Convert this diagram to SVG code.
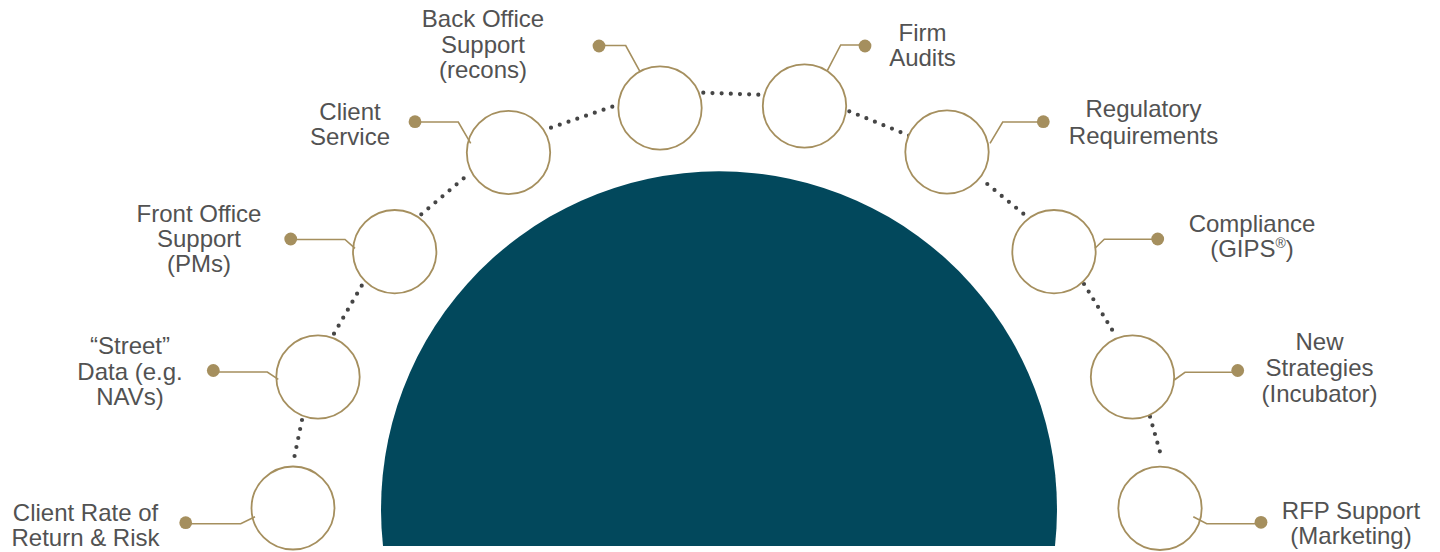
<svg xmlns="http://www.w3.org/2000/svg" width="1440" height="552" viewBox="0 0 1440 552">
  <style>
    .ring { fill: #ffffff; stroke: #A58F5E; stroke-width: 1.8; }
    .lead { fill: none; stroke: #A58F5E; stroke-width: 1.6; }
    .knob { fill: #A58F5E; }
    .dots { fill: none; stroke: #454545; stroke-width: 4.2; stroke-linecap: round; stroke-dasharray: 0 1; }
    .lbl { font-family: "Liberation Sans", Arial, sans-serif; font-size: 24px; fill: #525252; text-anchor: middle; }
  </style>

  <!-- central dome -->
  <path id="dome" d="M 383 546 A 338 338 0 1 1 1055 546 Z" fill="#02485C"/>

  <!-- dotted arc linking the rings -->
  <g id="connectors">
    <path class="dots" d="M 302 420 L 292.7 465" pathLength="5"/>
    <path class="dots" d="M 361.7 285.7 L 334 333.7" pathLength="6"/>
    <path class="dots" d="M 421.3 214.3 L 470.7 172.3" pathLength="7"/>
    <path class="dots" d="M 551 127.7 L 612.3 106.7" pathLength="7"/>
    <path class="dots" d="M 703.3 92.7 L 758.3 94.7" pathLength="6"/>
    <path class="dots" d="M 849.3 111.3 L 909 135.5" pathLength="7"/>
    <path class="dots" d="M 987.3 184 L 1023.3 213.7" pathLength="5"/>
    <path class="dots" d="M 1084 284 L 1116.7 337.3" pathLength="7"/>
    <path class="dots" d="M 1150 416.7 L 1162.3 460" pathLength="5"/>
  </g>

  <g id="n-client-rate">
    <circle class="ring" cx="293" cy="508" r="41.5"/>
    <polyline class="lead" points="185.7,523.8 240.7,523.8 255,516.7"/>
    <circle class="knob" cx="185.7" cy="522.7" r="6.4"/>
    <text class="lbl" x="85.5" y="521">Client Rate of</text>
    <text class="lbl" x="85.5" y="546">Return &amp; Risk</text>
  </g>

  <g id="n-street-data">
    <circle class="ring" cx="318" cy="377" r="41.7"/>
    <polyline class="lead" points="213.3,372 267.3,372 278.3,379.3"/>
    <circle class="knob" cx="213.3" cy="370.5" r="6.4"/>
    <text class="lbl" x="130" y="354">“Street”</text>
    <text class="lbl" x="130" y="379.5">Data (e.g.</text>
    <text class="lbl" x="130" y="405">NAVs)</text>
  </g>

  <g id="n-front-office">
    <circle class="ring" cx="394.7" cy="251.7" r="41.7"/>
    <polyline class="lead" points="290.7,239.5 345,239.5 355,248.3"/>
    <circle class="knob" cx="290.7" cy="239" r="6.4"/>
    <text class="lbl" x="199" y="221.7">Front Office</text>
    <text class="lbl" x="199" y="246.7">Support</text>
    <text class="lbl" x="199" y="271.7">(PMs)</text>
  </g>

  <g id="n-client-service">
    <circle class="ring" cx="508.5" cy="152.5" r="41.7"/>
    <polyline class="lead" points="415,122 458.3,122 470.7,143.3"/>
    <circle class="knob" cx="415" cy="121.7" r="6.4"/>
    <text class="lbl" x="350" y="119.5">Client</text>
    <text class="lbl" x="350" y="145">Service</text>
  </g>

  <g id="n-back-office">
    <circle class="ring" cx="660" cy="108" r="41.7"/>
    <polyline class="lead" points="599,45.5 625.7,45.5 640,71.7"/>
    <circle class="knob" cx="599" cy="46" r="6.4"/>
    <text class="lbl" x="483" y="26.7">Back Office</text>
    <text class="lbl" x="483" y="52.5">Support</text>
    <text class="lbl" x="483" y="78">(recons)</text>
  </g>

  <g id="n-firm-audits">
    <circle class="ring" cx="804.5" cy="106" r="41.7"/>
    <polyline class="lead" points="865,45 840.7,45 827.3,70.7"/>
    <circle class="knob" cx="865" cy="46" r="6.4"/>
    <text class="lbl" x="922.5" y="40.7">Firm</text>
    <text class="lbl" x="922.5" y="66">Audits</text>
  </g>

  <g id="n-regulatory">
    <circle class="ring" cx="947" cy="152" r="41.7"/>
    <polyline class="lead" points="1043.3,122 1002.7,122 990,143.3"/>
    <circle class="knob" cx="1043.3" cy="121.7" r="6.4"/>
    <text class="lbl" x="1143.5" y="117.3">Regulatory</text>
    <text class="lbl" x="1143.5" y="143.5">Requirements</text>
  </g>

  <g id="n-compliance">
    <circle class="ring" cx="1054" cy="251.7" r="41.7"/>
    <polyline class="lead" points="1157.7,239.3 1104.3,239.3 1095,248.3"/>
    <circle class="knob" cx="1157.7" cy="239" r="6.4"/>
    <text class="lbl" x="1252" y="231.7">Compliance</text>
    <text class="lbl" x="1252" y="257">(GIPS<tspan font-size="14" dy="-9">®</tspan><tspan dy="9">)</tspan></text>
  </g>

  <g id="n-new-strategies">
    <circle class="ring" cx="1132.5" cy="377" r="41.7"/>
    <polyline class="lead" points="1237.7,372.3 1185,372.3 1174.3,380"/>
    <circle class="knob" cx="1237.7" cy="370.5" r="6.4"/>
    <text class="lbl" x="1319.5" y="350">New</text>
    <text class="lbl" x="1319.5" y="376">Strategies</text>
    <text class="lbl" x="1319.5" y="401.7">(Incubator)</text>
  </g>

  <g id="n-rfp-support">
    <circle class="ring" cx="1160" cy="508.3" r="41.7"/>
    <polyline class="lead" points="1261,523.8 1206.7,523.8 1193.3,516.7"/>
    <circle class="knob" cx="1261" cy="522.3" r="6.4"/>
    <text class="lbl" x="1351" y="518.5">RFP Support</text>
    <text class="lbl" x="1351" y="544">(Marketing)</text>
  </g>
</svg>
